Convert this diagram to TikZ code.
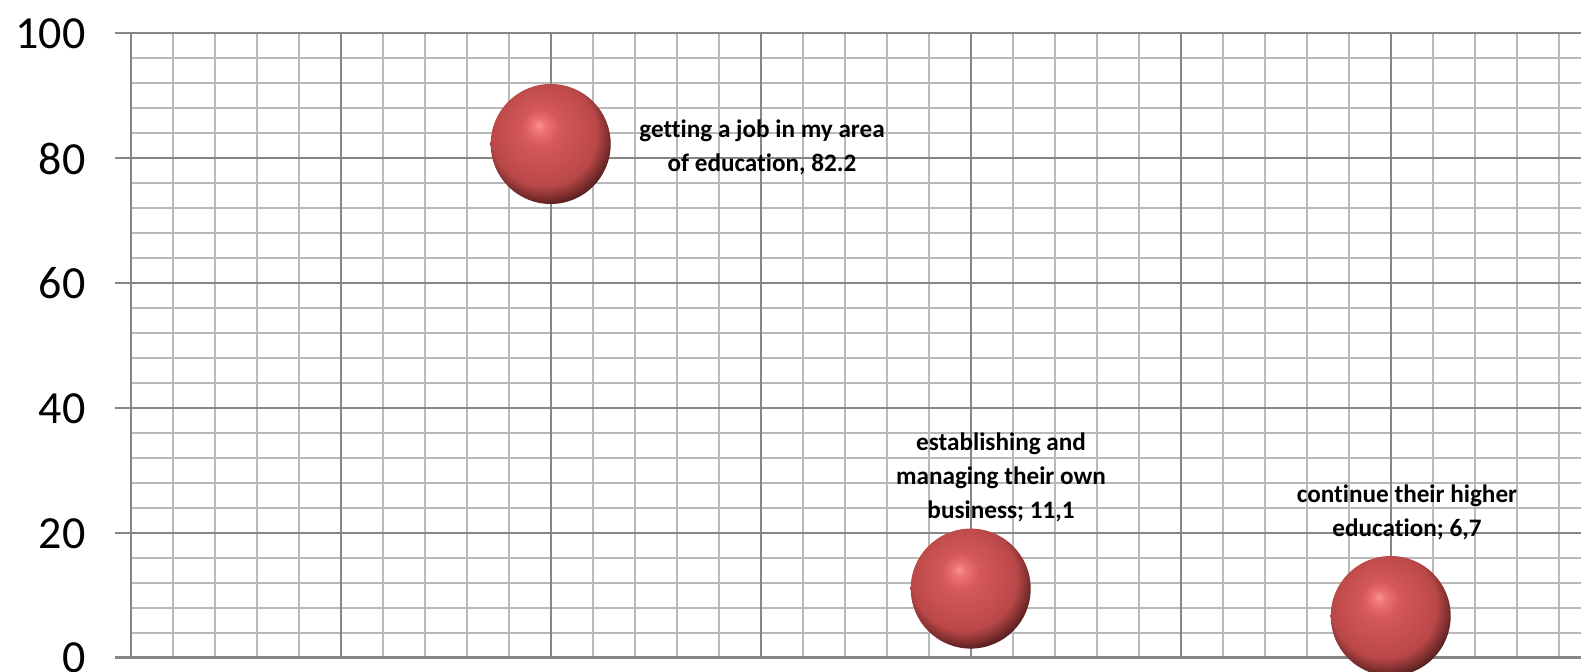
\documentclass[tikz,border=0pt]{standalone}
\usepackage{fontspec}
\setmainfont[Ligatures=NoCommon]{Carlito}
\definecolor{sphA}{RGB}{250,145,145}
\definecolor{sphB}{RGB}{235,112,112}
\definecolor{sphC}{RGB}{212,88,88}
\definecolor{sphD}{RGB}{200,80,80}
\definecolor{sphE}{RGB}{186,72,72}
\definecolor{sphF}{RGB}{130,48,48}
\definecolor{sphG}{RGB}{65,22,22}
\definecolor{gridminor}{RGB}{185,185,185}
\definecolor{gridmajor}{RGB}{134,134,134}
\pgfdeclareradialshading{redsphere}{\pgfpoint{-5bp}{8bp}}{color(0bp)=(sphA); color(3bp)=(sphB); color(8bp)=(sphC); color(15bp)=(sphD); color(22bp)=(sphE); color(26bp)=(sphF); color(30bp)=(sphG); color(50bp)=(sphG)}
\begin{document}
\begin{tikzpicture}[x=0.5pt,y=-0.5pt,
  minorline/.style={draw=gridminor,line width=1pt},
  majorline/.style={draw=gridmajor,line width=1pt},
  axisline/.style={draw=gridmajor,line width=1.5pt},
  bubble/.style={circle,minimum size=60pt,inner sep=0pt,shading=redsphere},
  lbl/.style={align=center,font=\bfseries\fontsize{12.6}{17}\selectfont,inner sep=0pt},
  ticklbl/.style={anchor=east,font=\fontsize{23}{23}\selectfont,inner sep=0pt}]
\useasboundingbox (0,0) rectangle (1581,672);
\fill[white] (0,0) rectangle (1581,672);
% minor grid
\foreach \j in {1,2,3,4,6,7,8,9,11,12,13,14,16,17,18,19,21,22,23,24}
  \draw[minorline] (130.7,33.5+25*\j) -- (1581,33.5+25*\j);
\foreach \k in {1,2,3,4,6,7,8,9,11,12,13,14,16,17,18,19,21,22,23,24,26,27,28,29,31,32,33,34}
  \draw[minorline] (130.7+42*\k,33.5) -- (130.7+42*\k,658);
% major grid
\foreach \j in {0,5,10,15,20}
  \draw[majorline] (115,33.5+25*\j) -- (1581,33.5+25*\j);
\foreach \k in {0,5,10,15,20,25,30}
  \draw[majorline] (130.7+42*\k,33.5) -- (130.7+42*\k,658);
\draw[axisline] (115,658) -- (1581,658);
% tick labels
\node[ticklbl] (t100) at (86,33.5) {100};
\node[ticklbl] (t80) at (86,158.5) {80};
\node[ticklbl] (t60) at (86,283.5) {60};
\node[ticklbl] (t40) at (86,408.5) {40};
\node[ticklbl] (t20) at (86,533.5) {20};
\node[ticklbl] (t0) at (86,658) {0};
% bubbles
\node[bubble] (b1) at (550.7,144) {};
\node[bubble] (b2) at (970.7,588.6) {};
\node[bubble] (b3) at (1390.7,616) {};
% labels
\node[lbl] (l1) at (762,147) {getting a job in my area\\of education, 82.2};
\node[lbl] (l2) at (1001,477) {establishing and\\managing their own\\business; 11,1};
\node[lbl] (l3) at (1407,512) {continue their higher\\education; 6,7};
\end{tikzpicture}
\end{document}
